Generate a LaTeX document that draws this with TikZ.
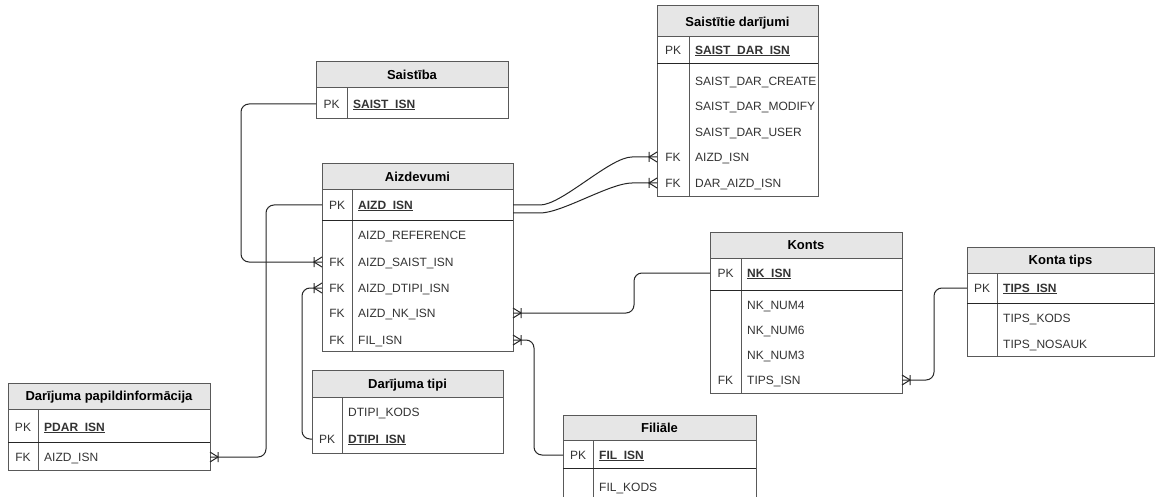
\documentclass[tikz,border=0pt]{standalone}
\usepackage{fontspec}
\setmainfont{Liberation Sans}
\usetikzlibrary{arrows.meta}

\definecolor{hdr}{HTML}{E6E6E6}
\definecolor{edge}{HTML}{595959}
\definecolor{ink}{HTML}{333333}

% crow's foot "one or many" end
\pgfdeclarearrow{
  name = Crow,
  setup code = {
    \pgfarrowssettipend{0pt}
    \pgfarrowssetlineend{0pt}
    \pgfarrowssetbackend{-8pt}
    \pgfarrowssetvisualbackend{-8pt}
    \pgfarrowsupperhullpoint{0pt}{5pt}
    \pgfarrowsupperhullpoint{-8pt}{5pt}
  },
  drawing code = {
    \pgfsetdash{}{0pt}
    \pgfsetcornersarced{\pgfpointorigin}
    \pgfpathmoveto{\pgfqpoint{0pt}{5pt}}
    \pgfpathlineto{\pgfqpoint{-8pt}{0pt}}
    \pgfpathlineto{\pgfqpoint{0pt}{-5pt}}
    \pgfpathmoveto{\pgfqpoint{-8pt}{5pt}}
    \pgfpathlineto{\pgfqpoint{-8pt}{-5pt}}
    \pgfusepathqstroke
  },
}

\tikzset{
  tblline/.style={draw=edge, line width=1pt},
  pkline/.style={draw=black!85, line width=1pt},
  titletxt/.style={font=\bfseries\fontsize{13}{15}\selectfont, text=black, inner sep=0pt},
  keytxt/.style={font=\fontsize{12}{14}\selectfont, text=ink, inner sep=0pt},
  fieldtxt/.style={font=\fontsize{12}{14}\selectfont, text=ink, inner sep=0pt},
  rowspan/.style={inner sep=0pt, outer sep=0pt, minimum height=20pt},
  conn/.style={draw=black!85, line width=1pt, rounded corners=8pt},
  conncurve/.style={draw=black!85, line width=1pt},
}

% bold underlined primary key
\newcommand{\erPK}[1]{\setbox0\hbox{\bfseries #1}\rlap{\rule[-1.8pt]{\wd0}{0.9pt}}\box0}

% table frame: name, left, top, right, bottom, header bottom, key separator, title
\newcommand{\erTable}[8]{%
  \fill[hdr] (#2,#3) rectangle (#4,#6);
  \draw[tblline] (#2,#6) -- (#4,#6);
  \draw[tblline] (#7,#6) -- (#7,#5);
  \draw[tblline] (#2,#3) rectangle (#4,#5);
  \node[titletxt, anchor=base] (#1) at ({(#2+#4)/2},{(#3+#6)/2+4.6}) {#8};
}

% table row: name, left, right, key separator, y, key, field
\newcommand{\erField}[7]{%
  \node[rowspan, minimum width={#3-#2}] (#1) at ({(#2+#3)/2},#5) {};
  \node[keytxt, anchor=base] at ({(#2+#4)/2},#5+4.3) {#6};
  \node[fieldtxt, anchor=base west] at (#4+6,#5+4.3) {#7};
}

\begin{document}
\begin{tikzpicture}[x=1pt, y=-1pt]
\clip (0,0) rectangle (1156,497);
\fill[white] (0,0) rectangle (1156,497);

% Saistītie darījumi
\erTable{sd}{657}{6}{818}{197}{37}{689}{Saistītie darījumi}
\draw[pkline] (657,64) -- (818,64);
\begin{scope}
  \clip (657,6) rectangle (817,197);
  \erField{sd-isn}{657}{818}{689}{50}{PK}{\erPK{SAIST\_DAR\_ISN}}
  \erField{sd-create}{657}{818}{689}{81}{}{SAIST\_DAR\_CREATE}
  \erField{sd-modify}{657}{818}{689}{106}{}{SAIST\_DAR\_MODIFY}
  \erField{sd-user}{657}{818}{689}{132}{}{SAIST\_DAR\_USER}
  \erField{sd-aizd}{657}{818}{689}{157}{FK}{AIZD\_ISN}
  \erField{sd-dar}{657}{818}{689}{183}{FK}{DAR\_AIZD\_ISN}
\end{scope}

% Saistība
\erTable{sb}{316}{62}{508}{119}{88}{347}{Saistība}
\erField{sb-isn}{316}{508}{347}{104}{PK}{\erPK{SAIST\_ISN}}

% Aizdevumi
\erTable{az}{322}{164}{513}{351}{190}{352}{Aizdevumi}
\draw[pkline] (322,220) -- (513,220);
\erField{az-isn}{322}{513}{352}{205}{PK}{\erPK{AIZD\_ISN}}
\erField{az-ref}{322}{513}{352}{235}{}{AIZD\_REFERENCE}
\erField{az-saist}{322}{513}{352}{262}{FK}{AIZD\_SAIST\_ISN}
\erField{az-dtipi}{322}{513}{352}{288}{FK}{AIZD\_DTIPI\_ISN}
\erField{az-nk}{322}{513}{352}{313}{FK}{AIZD\_NK\_ISN}
\erField{az-fil}{322}{513}{352}{340}{FK}{FIL\_ISN}

% Darījuma papildinformācija
\erTable{dp}{8}{383}{210}{470}{409}{38}{Darījuma papildinformācija}
\draw[pkline] (8,442) -- (210,442);
\erField{dp-pdar}{8}{210}{38}{427}{PK}{\erPK{PDAR\_ISN}}
\erField{dp-aizd}{8}{210}{38}{457}{FK}{AIZD\_ISN}

% Darījuma tipi
\erTable{dt}{312}{370}{503}{453}{397}{342}{Darījuma tipi}
\erField{dt-kods}{312}{503}{342}{412}{}{DTIPI\_KODS}
\erField{dt-isn}{312}{503}{342}{439}{PK}{\erPK{DTIPI\_ISN}}

% Filiāle
\erTable{fl}{563}{415}{756}{520}{440}{593}{Filiāle}
\draw[pkline] (563,468) -- (756,468);
\erField{fl-isn}{563}{756}{593}{455}{PK}{\erPK{FIL\_ISN}}
\erField{fl-kods}{563}{756}{593}{487}{}{FIL\_KODS}

% Konts
\erTable{kn}{710}{232}{902}{393}{258}{741}{Konts}
\draw[pkline] (710,290) -- (902,290);
\erField{kn-isn}{710}{902}{741}{273}{PK}{\erPK{NK\_ISN}}
\erField{kn-num4}{710}{902}{741}{305}{}{NK\_NUM4}
\erField{kn-num6}{710}{902}{741}{330}{}{NK\_NUM6}
\erField{kn-num3}{710}{902}{741}{355}{}{NK\_NUM3}
\erField{kn-tips}{710}{902}{741}{380}{FK}{TIPS\_ISN}

% Konta tips
\erTable{kt}{967}{247}{1154}{356}{273}{997}{Konta tips}
\draw[pkline] (967,303) -- (1154,303);
\erField{kt-isn}{967}{1154}{997}{288}{PK}{\erPK{TIPS\_ISN}}
\erField{kt-kods}{967}{1154}{997}{318}{}{TIPS\_KODS}
\erField{kt-nosauk}{967}{1154}{997}{344}{}{TIPS\_NOSAUK}

% relationships
\draw[conn, -Crow] (sb-isn.west) -- ++(-75,0) |- (az-saist.west);
\draw[conn, -Crow] (az-isn.west) -- ++(-56,0) |- (dp-aizd.east);
\draw[conn, -Crow] (dt-isn.west) -- ++(-10,0) |- (az-dtipi.west);
\draw[conn, -Crow] (kn-isn.west) -- ++(-76,0) |- (az-nk.east);
\draw[conn, -Crow] (fl-isn.west) -- ++(-29,0) |- (az-fil.east);
\draw[conn, -Crow] (kt-isn.west) -- ++(-33,0) |- (kn-tips.east);
\draw[conncurve, -Crow] (az-isn.east) -- ++(27,0)
  .. controls +(22,0) and +(-22,0) .. ([xshift=-25pt]sd-aizd.west) -- (sd-aizd.west);
\draw[conncurve, -Crow] ([yshift=-8pt]az-isn.east) -- ++(27,0)
  .. controls +(22,0) and +(-22,0) .. ([xshift=-25pt]sd-dar.west) -- (sd-dar.west);
\end{tikzpicture}
\end{document}
